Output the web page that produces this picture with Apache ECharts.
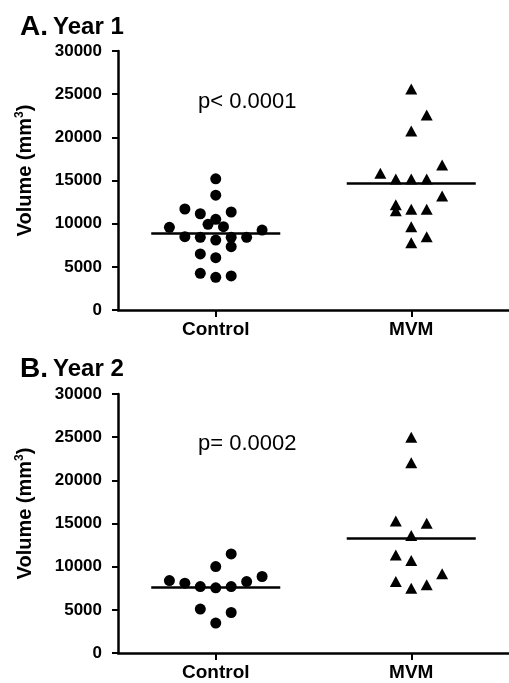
<!DOCTYPE html>
<html>
<head>
<meta charset="utf-8">
<script src="https://cdn.jsdelivr.net/npm/echarts@6/dist/echarts.min.js"></script>
<style>
  html, body { margin: 0; padding: 0; background: #fff; }
  #main { width: 509px; height: 683px; }
</style>
</head>
<body>
<div id="main"></div>
<script>
// categories sit at x = 1 and x = 3 on a 0..4 value axis
const categories = ['Control', 'MVM'];
const catPos = [1, 3];
const yTicks = [0, 5000, 10000, 15000, 20000, 25000, 30000];

// Year 1 values (mm3) and horizontal slot of each point (beeswarm column)
const y1Control = [15200, 13300, 11700, 11150, 11350, 10500, 9920, 9650, 9580, 9260,
  8490, 8420, 8100, 8420, 8420, 7330, 6490, 6060, 4250, 3790, 3940];
const y1ControlSlot = [0, 0, -2, -1, 1, 0, -0.5, 0.5, -3, 3,
  -2, -1, 0, 1, 2, 1, -1, 0, -1, 0, 1];
const y1Mvm = [25600, 22580, 20730, 16790, 15830, 15170, 15170, 15170, 13200,
  12200, 11500, 11660, 11660, 9650, 8490, 7800];
const y1MvmSlot = [0, 1, 0, 2, -2, -1, 0, 1, 2, -1, -1, 0, 1, 0, 1, 0];
const y1Medians = [8880, 14670];

// Year 2
const y2Control = [11480, 10010, 8860, 8390, 8090, 8280, 7700, 7550, 7700, 5090, 4690, 3470];
const y2ControlSlot = [1, 0, 3, -3, -2, 2, -1, 0, 1, -1, 1, 0];
const y2Mvm = [25000, 22030, 15290, 15030, 13600, 11360, 10700, 9170, 8280, 7510, 7900];
const y2MvmSlot = [0, 0, -1, 1, 0, -1, 0, 2, -1, 0, 1];
const y2Medians = [7630, 13330];

const pValues = ['p< 0.0001', 'p= 0.0002'];
const panelTitles = [['A.', 'Year 1'], ['B.', 'Year 2']];

const step = 0.158;
const halfLine = 0.66;
const font = 'Liberation Sans, Arial, Helvetica, sans-serif';

function pts(values, slots, c) {
  return values.map((v, i) => [catPos[c] + slots[i] * step, v]);
}

function medianLine(med, c) {
  return {
    silent: true,
    symbol: 'none',
    label: { show: false },
    lineStyle: { color: '#000', width: 2.5, type: 'solid', opacity: 1 },
    data: [[{ coord: [catPos[c] - halfLine, med] }, { coord: [catPos[c] + halfLine, med] }]]
  };
}

function xAxisFor(gi) {
  return {
    type: 'value', gridIndex: gi, min: 0, max: 4,
    axisLine: { lineStyle: { color: '#000', width: 2.5 } },
    axisTick: { customValues: catPos, length: 7, lineStyle: { color: '#000', width: 2 } },
    axisLabel: {
      customValues: catPos, margin: 10,
      color: '#000', fontFamily: font, fontWeight: 'bold', fontSize: 19,
      formatter: v => categories[catPos.indexOf(v)] || ''
    },
    splitLine: { show: false }
  };
}

function yAxisFor(gi) {
  return {
    type: 'value', gridIndex: gi, min: 0, max: 30000, interval: 5000,
    name: 'Volume (mm{sup|3})',
    nameLocation: 'middle', nameGap: 82,
    nameTextStyle: {
      color: '#000', fontFamily: font, fontWeight: 'bold', fontSize: 20,
      padding: [0, 0, 0, 20],
      rich: { sup: { fontSize: 12, fontWeight: 'bold', fontFamily: font, color: '#000', verticalAlign: 'top', padding: [0, 0, 10, 0] } }
    },
    axisLine: { show: true, lineStyle: { color: '#000', width: 2.5 } },
    axisTick: { show: true, length: 6, lineStyle: { color: '#000', width: 2 } },
    axisLabel: {
      margin: 16, color: '#000', fontFamily: font, fontWeight: 'bold', fontSize: 17,
      formatter: v => yTicks.includes(v) ? String(v) : ''
    },
    splitLine: { show: false }
  };
}

function scatter(data, gi, shape, med, c) {
  return {
    type: 'scatter', xAxisIndex: gi, yAxisIndex: gi,
    symbol: shape,
    symbolSize: shape === 'circle' ? 11 : [12, 11],
    itemStyle: { color: '#000', opacity: 1 },
    data: data,
    markLine: medianLine(med, c)
  };
}

const chart = echarts.init(document.getElementById('main'), null, { renderer: 'canvas' });

function panelTitle(t, top) {
  return {
    text: '{a|' + t[0] + '} {b|' + t[1] + '}', left: 15, top: top,
    textStyle: { rich: {
      a: { fontSize: 28, fontWeight: 'bold', fontFamily: font, color: '#000' },
      b: { fontSize: 24, fontWeight: 'bold', fontFamily: font, color: '#000' } } }
  };
}

const option = {
  animation: false,
  backgroundColor: '#fff',
  title: [
    panelTitle(panelTitles[0], 8),
    panelTitle(panelTitles[1], 350),
    { text: pValues[0], left: 193, top: 86,
      textStyle: { fontSize: 22, fontWeight: 'normal', fontFamily: font, color: '#000' } },
    { text: pValues[1], left: 193, top: 428,
      textStyle: { fontSize: 22, fontWeight: 'normal', fontFamily: font, color: '#000' } }
  ],
  grid: [
    { left: 118, right: -5, top: 51, height: 259 },
    { left: 118, right: -5, top: 394, height: 259 }
  ],
  xAxis: [xAxisFor(0), xAxisFor(1)],
  yAxis: [yAxisFor(0), yAxisFor(1)],
  series: [
    scatter(pts(y1Control, y1ControlSlot, 0), 0, 'circle', y1Medians[0], 0),
    scatter(pts(y1Mvm, y1MvmSlot, 1), 0, 'triangle', y1Medians[1], 1),
    scatter(pts(y2Control, y2ControlSlot, 0), 1, 'circle', y2Medians[0], 0),
    scatter(pts(y2Mvm, y2MvmSlot, 1), 1, 'triangle', y2Medians[1], 1)
  ]
};

chart.setOption(option);
</script>
</body>
</html>
